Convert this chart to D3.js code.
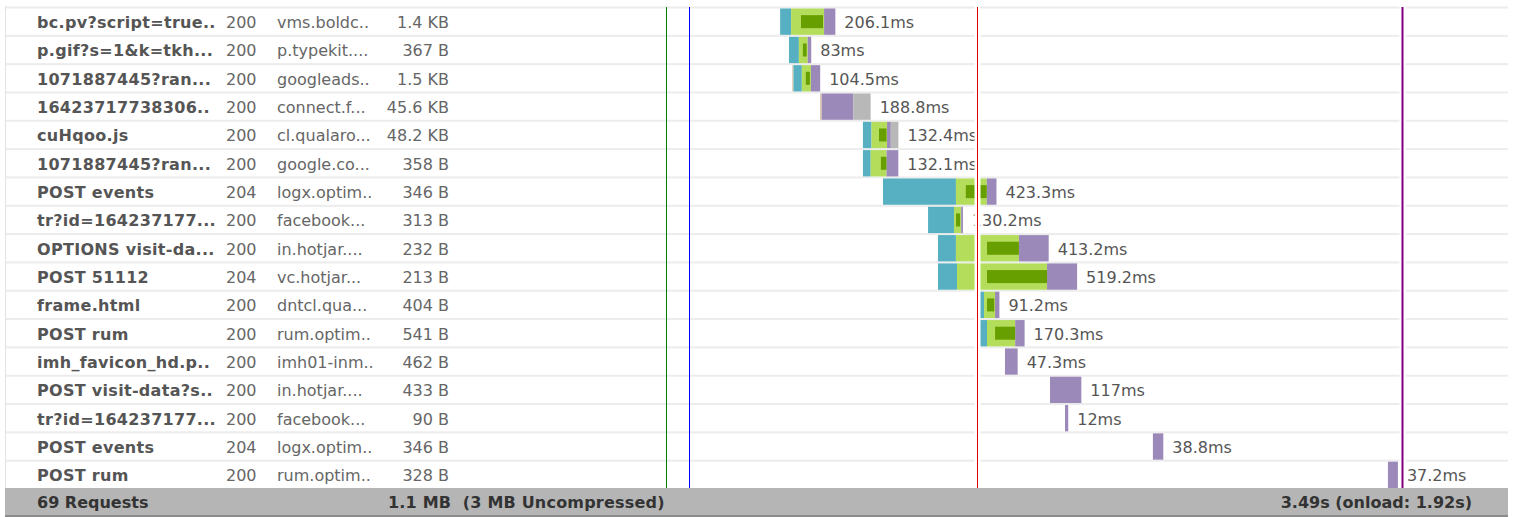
<!DOCTYPE html>
<html lang="en">
  <head>
    <meta charset="utf-8">
    <title>waterfall</title>
    <script src="https://cdn.jsdelivr.net/npm/d3@7"></script>
    <style>
      body { margin: 0; background: #fff; }
      svg { display: block; font-family: "DejaVu Sans", Verdana, sans-serif; }
    </style>
  </head>
  <body>
    <script>
      // request rows
      var names = ["bc.pv?script=true..", "p.gif?s=1&k=tkh...", "1071887445?ran...", "16423717738306..",
                   "cuHqoo.js", "1071887445?ran...", "POST events", "tr?id=164237177...",
                   "OPTIONS visit-da...", "POST 51112", "frame.html", "POST rum",
                   "imh_favicon_hd.p..", "POST visit-data?s..", "tr?id=164237177...", "POST events", "POST rum"];
      var statuses = [200, 200, 200, 200, 200, 200, 204, 200, 200, 204, 200, 200, 200, 200, 200, 204, 200];
      var domains = ["vms.boldc..", "p.typekit....", "googleads..", "connect.f...", "cl.qualaro...", "google.co...",
                     "logx.optim..", "facebook...", "in.hotjar....", "vc.hotjar...", "dntcl.qua...", "rum.optim..",
                     "imh01-inm..", "in.hotjar....", "facebook...", "logx.optim..", "rum.optim.."];
      var sizes = ["1.4 KB", "367 B", "1.5 KB", "45.6 KB", "48.2 KB", "358 B", "346 B", "313 B", "232 B",
                   "213 B", "404 B", "541 B", "462 B", "433 B", "90 B", "346 B", "328 B"];

      // timings in ms
      var starts    = [1187, 1220, 1232, 1336, 1496, 1496, 1571, 1739, 1776, 1776, 1914, 1929, 2026, 2194, 2250, 2578, 3455];
      var blocked   = [0, 0, 5, 6, 0, 0, 0, 0, 0, 0, 0, 0, 0, 0, 0, 0, 0];
      var connect   = [41, 37, 31, 0, 32, 29, 272, 97, 67, 71, 34, 30, 0, 0, 0, 0, 0];
      var send      = [37, 15, 15, 0, 28, 38, 37, 7.5, 116, 112, 11, 30, 0, 0, 0, 0, 0];
      var wait      = [82, 14, 15, 0, 28, 21, 78, 15, 119, 224, 27, 75, 0, 0, 0, 0, 0];
      var afterWait = [4, 4, 4, 0, 2, 0, 0, 4, 0, 0, 3, 0, 0, 0, 0, 0, 0];
      var receive   = [42.1, 13, 34.5, 118, 14, 44.1, 36.3, 6.7, 111.2, 112.2, 16.2, 35.3, 47.3, 117, 12, 38.8, 37.2];
      var cached    = [0, 0, 0, 64.8, 28.4, 0, 0, 0, 0, 0, 0, 0, 0, 0, 0, 0, 0];
      var durations = [206.1, 83, 104.5, 188.8, 132.4, 132.1, 423.3, 130.2, 413.2, 519.2, 91.2, 170.3, 47.3, 117, 12, 38.8, 37.2];

      // page events in ms
      var eventNames = ["domInteractive", "DOMContentLoaded", "onload", "lastEvent"];
      var eventTimes = [761, 847, 1920, 3507];

      var footerLabels = ["69 Requests", "1.1 MB  (3 MB Uncompressed)", "3.49s (onload: 1.92s)"];

      var w = 1513;
      var h = 517;
      var footerTop = 488;

      var colors = {
        blocked: "#dcc9ad",
        connect: "#56b0c1",
        send: "#b3dd5b",
        wait: "#689f00",
        receive: "#9b89b9",
        cached: "#b8b8b8"
      };
      var eventColors = {
        domInteractive: "#008000",
        DOMContentLoaded: "#0000ff",
        onload: "#e00000",
        lastEvent: "#800080"
      };

      var x = d3.scaleLinear().domain([0, 3900]).range([462, 1507.2]);
      var y = d3.scaleBand().domain(d3.range(names.length)).range([6.5, footerTop]);
      var bh = y.bandwidth();

      var svg = d3.select("body").append("svg")
                  .attr("width", w)
                  .attr("height", h);

      // row separators
      svg.selectAll("rect.sep")
         .data(names)
         .enter()
         .append("rect")
         .attr("class", "sep")
         .attr("x", 5)
         .attr("width", 1503)
         .attr("y", function (d, i) { return y(i); })
         .attr("height", 2)
         .attr("fill", "#ececec");

      svg.append("line")
         .attr("x1", 5.5).attr("x2", 5.5)
         .attr("y1", 6).attr("y2", footerTop)
         .attr("stroke", "#e2e2e2");

      // text columns
      var rows = svg.selectAll("g.row")
                    .data(names)
                    .enter()
                    .append("g")
                    .attr("class", "row")
                    .attr("transform", function (d, i) { return "translate(0," + (y(i) + 21.5) + ")"; })
                    .attr("font-size", "16px");

      rows.append("text")
          .attr("x", 37)
          .attr("font-weight", "bold")
          .attr("letter-spacing", "0.3px")
          .attr("fill", "#555")
          .text(function (d) { return d; });
      rows.append("text")
          .attr("x", 226)
          .attr("fill", "#666")
          .text(function (d, i) { return statuses[i]; });
      rows.append("text")
          .attr("x", 277)
          .attr("fill", "#666")
          .text(function (d, i) { return domains[i]; });
      rows.append("text")
          .attr("x", 449)
          .attr("text-anchor", "end")
          .attr("fill", "#666")
          .text(function (d, i) { return sizes[i]; });

      // bars
      var segs = [];
      var insets = [];
      var ends = [];
      names.forEach(function (d, i) {
        var t = starts[i];
        var push = function (type, dur) {
          if (dur > 0) segs.push({ row: i, type: type, t0: t, t1: t + dur });
          t += dur;
        };
        push("blocked", blocked[i]);
        push("connect", connect[i]);
        if (send[i] + wait[i] + afterWait[i] > 0) {
          segs.push({ row: i, type: "send", t0: t, t1: t + send[i] + wait[i] + afterWait[i] });
          insets.push({ row: i, t0: t + send[i], t1: t + send[i] + wait[i] });
          t += send[i] + wait[i] + afterWait[i];
        }
        push("receive", receive[i]);
        push("cached", cached[i]);
        ends.push(t);
      });

      svg.selectAll("rect.seg")
         .data(segs)
         .enter()
         .append("rect")
         .attr("class", "seg")
         .attr("x", function (d) { return x(d.t0); })
         .attr("width", function (d) { return x(d.t1) - x(d.t0); })
         .attr("y", function (d) { return y(d.row) + 2; })
         .attr("height", bh - 2)
         .attr("fill", function (d) { return colors[d.type]; });

      svg.selectAll("rect.wait")
         .data(insets)
         .enter()
         .append("rect")
         .attr("class", "wait")
         .attr("x", function (d) { return x(d.t0); })
         .attr("width", function (d) { return x(d.t1) - x(d.t0); })
         .attr("y", function (d) { return y(d.row) + 2 + (bh - 2 - 13) / 2; })
         .attr("height", 13)
         .attr("fill", colors.wait);

      svg.selectAll("text.dur")
         .data(durations)
         .enter()
         .append("text")
         .attr("class", "dur")
         .attr("x", function (d, i) { return x(ends[i]) + 9; })
         .attr("y", function (d, i) { return y(i) + 21.5; })
         .attr("font-size", "16px")
         .attr("fill", "#555")
         .text(function (d) { return d + "ms"; });

      // event markers
      svg.selectAll("rect.gap")
         .data(eventNames.filter(function (d) { return d === "onload" || d === "lastEvent"; }))
         .enter()
         .append("rect")
         .attr("class", "gap")
         .attr("x", function (d) { return Math.round(x(eventTimes[eventNames.indexOf(d)])) - 2.5; })
         .attr("width", 6)
         .attr("y", 6)
         .attr("height", footerTop - 6)
         .attr("fill", "#fff");

      svg.selectAll("line.evt")
         .data(eventNames)
         .enter()
         .append("line")
         .attr("class", "evt")
         .attr("x1", function (d, i) { return Math.round(x(eventTimes[i])) + 0.5; })
         .attr("x2", function (d, i) { return Math.round(x(eventTimes[i])) + 0.5; })
         .attr("y1", 7)
         .attr("y2", footerTop)
         .attr("stroke", function (d) { return eventColors[d]; })
         .attr("stroke-width", function (d) { return d === "lastEvent" ? 2 : 1; });

      // footer
      svg.append("rect")
         .attr("x", 5).attr("y", footerTop)
         .attr("width", 1503).attr("height", h - footerTop - 2)
         .attr("fill", "#b5b5b5");
      svg.append("rect")
         .attr("x", 5).attr("y", h - 2)
         .attr("width", 1503).attr("height", 2)
         .attr("fill", "#8c8c8c");

      var foot = svg.append("g")
                    .attr("font-size", "16px")
                    .attr("font-weight", "bold")
                    .attr("fill", "#333");
      foot.append("text").attr("x", 37).attr("y", 508).text(footerLabels[0]);
      foot.append("text").attr("x", 388).attr("y", 508).attr("letter-spacing", "0.2px")
          .attr("xml:space", "preserve").text(footerLabels[1]);
      foot.append("text").attr("x", 1472).attr("y", 508).attr("text-anchor", "end").text(footerLabels[2]);
    </script>
  </body>
</html>
